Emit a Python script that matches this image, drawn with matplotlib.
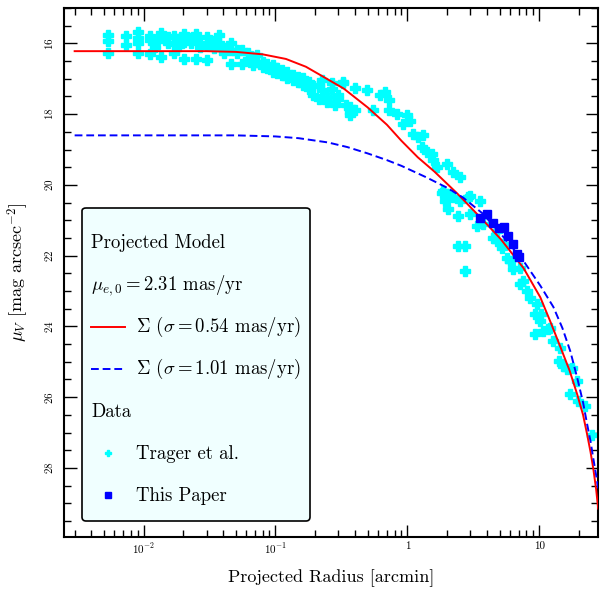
import numpy as np
import matplotlib
matplotlib.use("Agg")
import matplotlib.pyplot as plt
from matplotlib.lines import Line2D
from matplotlib.ticker import MultipleLocator, LogLocator, NullFormatter

plt.rcParams["font.family"] = "serif"
plt.rcParams["font.serif"] = ["cmr10"]
plt.rcParams["mathtext.fontset"] = "cm"
plt.rcParams["axes.unicode_minus"] = False
plt.rcParams["axes.formatter.use_mathtext"] = True

# --- model curves -----------------------------------------------------------
model_r = [0.003, 0.03, 0.05, 0.08, 0.12, 0.17, 0.22, 0.33, 0.5, 0.7, 0.9, 1.2,
           1.6, 2.4, 3.8, 5.1, 7.6, 10.2, 12.1, 14.4, 17.0, 19.4, 21.5, 23.1,
           24.5, 25.7, 27.0, 28.0]
model_red = [16.22, 16.22, 16.24, 16.31, 16.44, 16.66, 16.90, 17.28, 17.81, 18.30,
             18.75, 19.22, 19.62, 20.25, 21.02, 21.53, 22.35, 23.18, 23.85, 24.56,
             25.25, 25.92, 26.50, 27.06, 27.55, 28.02, 28.60, 29.15]

model_r_blue = [0.003, 0.05, 0.1, 0.15, 0.25, 0.35, 0.5, 0.7, 0.9, 1.4, 2.0, 2.65,
                3.7, 5.1, 7.6, 10.2, 12.8, 15.0, 17.2, 19.4, 21.5, 23.1, 24.5,
                25.7, 27.0, 28.0]
model_blue = [18.60, 18.60, 18.63, 18.68, 18.80, 18.93, 19.11, 19.30, 19.46, 19.79,
              20.08, 20.36, 20.80, 21.38, 22.15, 22.85, 23.45, 24.05, 24.70, 25.45,
              26.15, 26.77, 27.25, 27.73, 28.20, 28.58]

# --- Trager et al. profile ---------------------------------------------------
trager_r = [0.0054, 0.0054, 0.0054, 0.0074, 0.0074, 0.0090, 0.0090, 0.0090, 0.0090,
            0.0111, 0.0111, 0.0111, 0.0123, 0.0123, 0.0135, 0.0135, 0.0135,
            0.0152, 0.0152, 0.0169, 0.0169, 0.0169, 0.0184, 0.0184,
            0.0201, 0.0201, 0.0201, 0.0227, 0.0227, 0.0248, 0.0248, 0.0248,
            0.027, 0.027, 0.0305, 0.0305, 0.0305, 0.0339, 0.0339,
            0.037, 0.037, 0.037, 0.0404, 0.0404, 0.0456, 0.0456, 0.0456,
            0.0507, 0.0507, 0.0553, 0.0553, 0.0614, 0.0614, 0.067, 0.067,
            0.073, 0.073, 0.0798, 0.0798, 0.087, 0.087, 0.095, 0.095,
            0.1035, 0.1035, 0.113, 0.113, 0.123, 0.123, 0.135, 0.135,
            0.147, 0.147, 0.163, 0.163, 0.178, 0.178, 0.194, 0.194,
            0.212, 0.212, 0.227, 0.227, 0.248, 0.248, 0.27, 0.27, 0.285,
            0.30, 0.30, 0.327, 0.327, 0.345, 0.37, 0.37, 0.37, 0.40, 0.40,
            0.498, 0.55, 0.62, 0.68, 0.72, 0.72, 0.84, 0.92, 1.0, 1.05,
            1.11, 1.21, 1.32, 1.29, 1.42, 1.55, 1.57, 1.69, 2.01, 2.23, 2.51,
            1.87, 2.01, 2.2, 2.9, 1.84, 2.05, 1.94, 2.05, 2.51, 3.0, 3.57,
            2.42, 3.0, 3.39, 3.77, 4.81, 2.42, 2.75, 2.75, 4.81, 5.73, 6.35,
            7.2, 7.57, 7.2, 8.1, 8.5, 9.67, 9.3, 10.2, 10.7, 9.3, 12.1, 12.8,
            5.35, 4.49, 5.2, 6.0, 10.4, 11.6, 14.4, 14.1, 15.2, 16.2, 17.7,
            19.4, 17.2, 19.7, 22.3, 25.2]
trager_mu = [15.76, 15.93, 16.28, 15.79, 16.05, 15.67, 15.85, 15.98, 16.28,
             15.79, 15.91, 16.30, 15.95, 16.10, 15.70, 15.84, 16.38,
             15.81, 16.00, 15.79, 16.03, 16.28, 15.89, 16.08,
             15.74, 15.95, 16.43, 15.86, 16.00, 15.74, 15.89, 16.43,
             16.00, 16.10, 15.81, 16.05, 16.47, 15.93, 16.14,
             15.76, 15.98, 16.08, 16.14, 16.28, 15.98, 16.19, 16.57,
             16.19, 16.27, 16.19, 16.57, 16.28, 16.43, 16.38, 16.62,
             16.33, 16.52, 16.52, 16.66, 16.57, 16.71, 16.62, 16.81,
             16.71, 16.85, 16.76, 16.90, 16.81, 16.99, 16.90, 17.04,
             16.95, 17.09, 16.99, 17.18, 17.09, 17.28, 17.21, 17.47,
             17.18, 17.56, 17.04, 17.32, 17.51, 17.66, 17.13, 17.28, 17.75,
             17.47, 17.56, 17.09, 17.13, 17.75, 17.80, 17.94, 18.03, 17.25, 17.89,
             17.32, 17.89, 17.47, 17.37, 17.61, 17.89, 17.99, 18.27, 18.03, 18.18,
             18.55, 18.65, 18.60, 18.93, 19.08, 19.12, 19.31, 19.50, 19.40, 19.64, 19.78,
             20.16, 20.30, 20.35, 20.35, 20.22, 20.25, 20.45, 20.67, 20.45, 20.30, 20.45,
             20.87, 20.83, 21.16, 21.10, 21.30, 21.72, 21.72, 22.43, 21.58, 22.06, 22.38,
             22.35, 22.71, 22.80, 23.00, 23.20, 23.37, 23.66, 23.85, 24.14, 24.20, 24.05, 24.40,
             21.66, 21.49, 21.77, 22.14, 23.66, 24.08, 24.60, 24.98, 25.12, 25.20, 25.18,
             25.55, 25.92, 26.12, 26.26, 27.06]

# --- this paper --------------------------------------------------------------
paper_r = [3.57, 4.04, 4.49, 4.98, 5.43, 5.82, 6.35, 6.81, 7.05]
paper_mu = [20.93, 20.81, 21.07, 21.21, 21.18, 21.44, 21.67, 21.95, 22.03]

fig = plt.figure(figsize=(6.0, 5.92), dpi=100)
ax = fig.add_axes([0.107, 0.093, 0.890, 0.8935])

ax.plot(trager_r, trager_mu, linestyle="none", marker="P", ms=6.5,
        color="#00ffff", mec="#00ffff", zorder=2)
ax.plot(model_r, model_red, color="red", lw=1.4, zorder=3)
ax.plot(model_r_blue, model_blue, color="blue", lw=1.4, ls=(0, (4, 2)), zorder=3)
ax.plot(paper_r, paper_mu, linestyle="none", marker="s", ms=6,
        color="blue", zorder=4)

ax.set_xscale("log")
ax.set_xlim(0.0025, 28.0)
ax.set_ylim(29.95, 15.0)
ax.yaxis.set_major_locator(MultipleLocator(2))
ax.yaxis.set_minor_locator(MultipleLocator(0.5))
ax.xaxis.set_minor_locator(LogLocator(base=10, subs=np.arange(2, 10)))
ax.xaxis.set_minor_formatter(NullFormatter())
ax.set_xticks([0.01, 0.1, 1, 10])
ax.set_xticklabels([r"$10^{-2}$", r"$10^{-1}$", "1", "10"])

ax.tick_params(which="both", direction="in", top=True, right=True, labelsize=8)
ax.tick_params(which="major", length=9, width=1.0)
ax.tick_params(which="minor", length=5, width=1.0)
ax.tick_params(axis="y", pad=6.5)
for lab in ax.get_yticklabels():
    lab.set_rotation(90)
    lab.set_va("center")
for sp in ax.spines.values():
    sp.set_linewidth(1.5)

ax.set_xlabel("Projected Radius [arcmin]", fontsize=13, labelpad=9)
ax.set_ylabel(r"$\mu_V$ [mag arcsec$^{-2}$]", fontsize=13, labelpad=9)

blank = Line2D([], [], linestyle="none")
handles = [
    blank,
    blank,
    Line2D([], [], color="red", lw=1.4),
    Line2D([], [], color="blue", lw=1.4, ls=(0, (4, 2))),
    blank,
    Line2D([], [], linestyle="none", marker="P", ms=4, color="#00ffff"),
    Line2D([], [], linestyle="none", marker="s", ms=4, color="blue"),
]
labels = [
    "Projected Model",
    r"$\mu_{e,0} = 2.31$ mas/yr",
    r"$\Sigma$ ($\sigma = 0.54$ mas/yr)",
    r"$\Sigma$ ($\sigma = 1.01$ mas/yr)",
    "Data",
    "Trager et al.",
    "This Paper",
]
leg = ax.legend(handles, labels, loc="lower left", bbox_to_anchor=(0.034, 0.03),
                borderaxespad=0, fontsize=13.5, labelspacing=0.0, handlelength=1.8,
                handletextpad=0.6, borderpad=0.48, fancybox=True,
                framealpha=1.0, facecolor="#f0ffff", edgecolor="black")
leg.get_frame().set_linewidth(1.2)

# even row pitch: fixed-size handle boxes (points, baseline at 0);
# header rows get a zero-width handle so the text sits at the handle position
headers = {0, 1, 4}
rows = [row for col in leg._legend_handle_box.get_children() for row in col.get_children()]
for i, row in enumerate(rows):
    da = row.get_children()[0]
    da.height = 30.4
    da.ydescent = 8.0
    if i in headers:
        da.width = 0
        row.sep = 0
for h in leg.legend_handles:
    h.set_ydata(np.full_like(np.asarray(h.get_xdata(), dtype=float), 4.0))

fig.savefig("out.png", dpi=100)
